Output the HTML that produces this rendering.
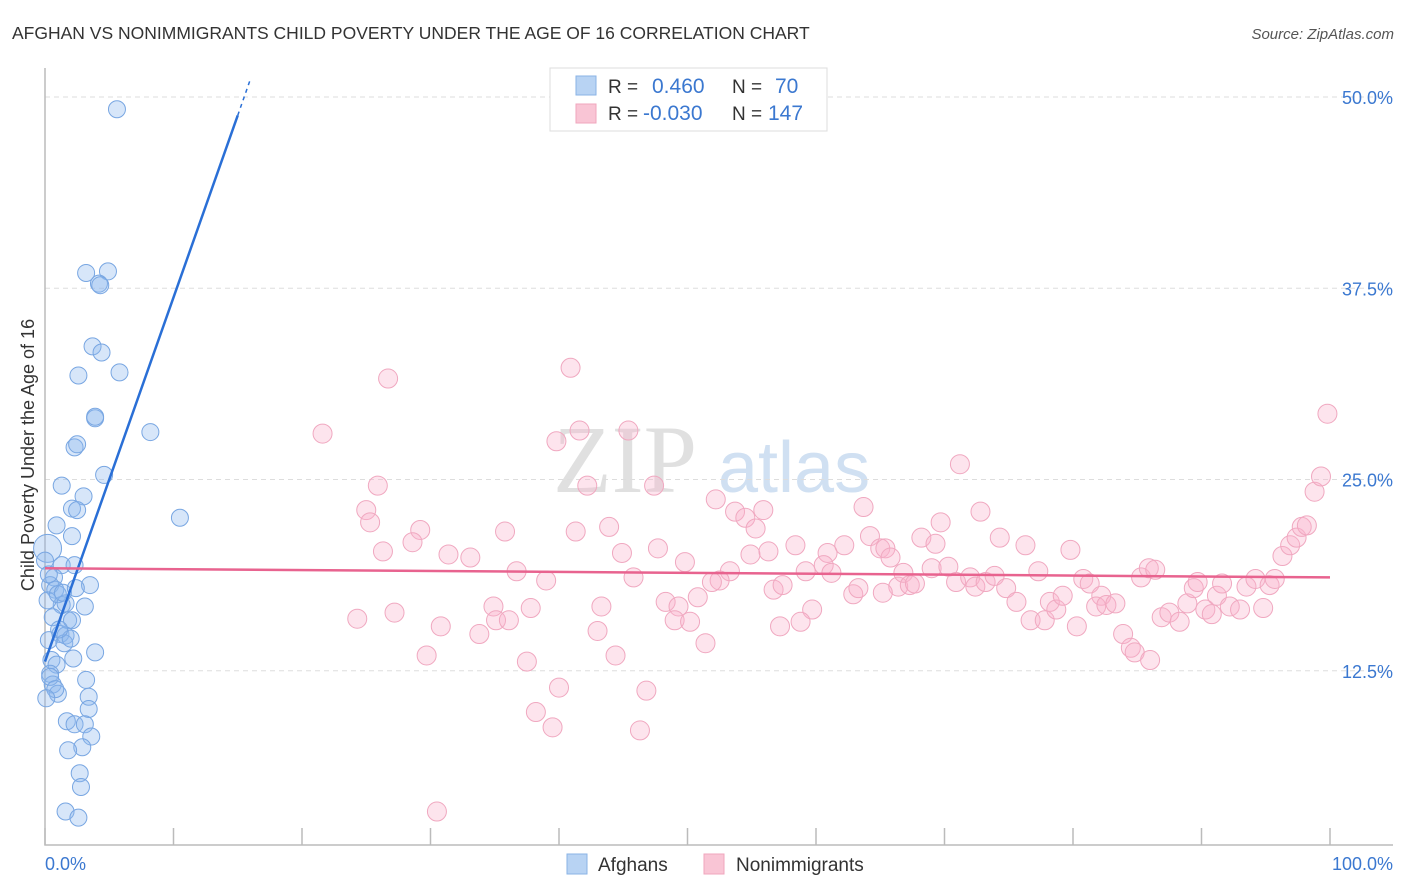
<!DOCTYPE html>
<html><head><meta charset="utf-8">
<style>
body{margin:0;background:#fff;font-family:"Liberation Sans",sans-serif;}
#wrap{position:relative;width:1406px;height:892px;overflow:hidden}
</style></head>
<body>
<div id="wrap">
<svg id="svg" width="1406" height="892" xmlns="http://www.w3.org/2000/svg">
<text x="12" y="39" font-size="17.5" fill="#333">AFGHAN VS NONIMMIGRANTS CHILD POVERTY UNDER THE AGE OF 16 CORRELATION CHART</text>
<text x="1394" y="39" font-size="15" fill="#555" font-style="italic" text-anchor="end">Source: ZipAtlas.com</text>
<text x="553" y="492" font-size="96" fill="#e0e0e0" font-family="Liberation Serif,serif">ZIP</text>
<text x="718" y="492" font-size="72" fill="#d0e0f2">atlas</text>
<text transform="translate(34,455) rotate(-90)" font-size="18" fill="#333" text-anchor="middle">Child Poverty Under the Age of 16</text>
<g id="grid"></g><g id="axes"></g><g id="pink"></g><g id="blue"></g><g id="lines"></g>
<g>
<rect x="550" y="68" width="277" height="63" fill="#fff" stroke="#ddd"/>
<rect x="576" y="76" width="20" height="19" fill="#b8d3f3" stroke="#8ab3e6"/>
<rect x="576" y="104" width="20" height="19" fill="#f9c5d5" stroke="#f0a6bd"/>
<text x="608" y="93" font-size="19" fill="#333">R =</text>
<text x="652" y="93" font-size="21" fill="#3b78d0">0.460</text>
<text x="732" y="93" font-size="19" fill="#333">N =</text>
<text x="775" y="93" font-size="21" fill="#3b78d0">70</text>
<text x="608" y="120" font-size="19" fill="#333">R =</text>
<text x="643" y="120" font-size="21" fill="#3b78d0">-0.030</text>
<text x="732" y="120" font-size="19" fill="#333">N =</text>
<text x="768" y="120" font-size="21" fill="#3b78d0">147</text>
</g>
<g>
<rect x="567" y="854" width="20" height="20" fill="#b8d3f3" stroke="#8ab3e6"/>
<text x="598" y="871" font-size="19" fill="#333">Afghans</text>
<rect x="704" y="854" width="20" height="20" fill="#f9c5d5" stroke="#f0a6bd"/>
<text x="736" y="871" font-size="19" fill="#333">Nonimmigrants</text>
</g>
<text x="45" y="870" font-size="18" fill="#3b78d0">0.0%</text>
<text x="1393" y="870" font-size="18" fill="#3b78d0" text-anchor="end">100.0%</text>
</svg>
</div>
<script>
const yTicks=[12.5,25,37.5,50];
const yTickLabels=["12.5%","25.0%","37.5%","50.0%"];
const xTicks=[0,10,20,30,40,50,60,70,80,90,100];
const blueX=[5.6,3.2,4.9,4.2,4.3,3.7,4.4,2.6,5.8,3.9,3.9,8.2,2.3,2.5,1.3,4.6,3.0,2.1,2.5,10.5,0.9,2.1,0.2,1.3,2.3,0.7,0.4,3.5,0.8,1.3,3.1,1.8,2.1,1.2,1.6,1.5,3.9,2.2,0.5,0.9,0.4,0.6,3.2,1.0,3.4,3.4,1.7,2.3,3.1,3.6,2.9,1.8,2.7,2.8,1.6,2.6,0.0,0.2,0.3,1.0,0.6,0.4,1.6,2.0,0.8,1.1,1.4,0.1,0.3,2.4];
const blueY=[49.2,38.5,38.6,37.8,37.7,33.7,33.3,31.8,32.0,29.0,29.1,28.1,27.1,27.3,24.6,25.3,23.9,23.1,23.0,22.5,22.0,21.3,20.5,19.4,19.4,18.6,18.1,18.1,17.8,16.8,16.7,15.8,15.8,14.9,14.8,14.3,13.7,13.3,13.2,12.9,12.3,11.6,11.9,11.0,10.8,10.0,9.2,9.0,9.0,8.2,7.5,7.3,5.8,4.9,3.3,2.9,19.7,17.1,14.5,17.5,16.0,12.1,16.9,14.6,11.3,15.2,17.6,10.7,18.8,17.9];
const pinkX=[21.6,26.7,40.9,45.4,39.8,41.6,25.9,25,25.3,26.3,29.2,28.6,31.4,33.1,35.8,36.7,39,41.3,42.2,43.9,44.9,45.8,47.4,47.7,49.8,52.2,53.7,54.5,55.9,55.3,54.9,56.3,58.4,53.3,52.5,51.9,50.8,48.3,49.3,49,50.2,51.4,59.2,60.9,62.2,60.6,61.2,59.7,58.8,57.2,56.7,62.9,63.3,64.2,63.7,65,65.4,65.8,66.4,66.8,67.3,67.7,68.2,69.3,69.7,69,70.3,70.9,72,72.4,73.2,73.9,72.8,71.2,74.3,74.8,75.6,76.3,77.3,76.7,77.8,78.2,78.7,79.2,79.8,80.3,80.8,81.3,82.2,81.8,82.6,83.3,83.9,84.5,84.8,85.3,85.9,86.4,86.9,87.5,88.3,88.9,89.4,89.7,90.3,90.8,91.2,91.6,92.2,93,93.5,94.2,94.8,95.3,95.7,96.3,96.9,97.4,97.8,98.2,98.8,99.3,99.8,24.3,27.2,30.8,29.7,34.9,35.1,36.1,33.8,37.8,37.5,40,38.2,39.5,43.3,43,44.4,46.8,46.3,30.5,57.4,65.2,86.0];
const pinkY=[28.0,31.6,32.3,28.2,27.5,28.2,24.6,23,22.2,20.3,21.7,20.9,20.1,19.9,21.6,19.0,18.4,21.6,24.6,21.9,20.2,18.6,24.6,20.5,19.6,23.7,22.9,22.5,23.0,21.8,20.1,20.3,20.7,19.0,18.4,18.3,17.3,17.0,16.7,15.8,15.7,14.3,19.0,20.2,20.7,19.4,18.9,16.5,15.7,15.4,17.8,17.5,17.9,21.3,23.2,20.5,20.5,19.9,18.0,18.9,18.1,18.2,21.2,20.8,22.2,19.2,19.3,18.3,18.6,18.0,18.3,18.7,22.9,26.0,21.2,17.9,17.0,20.7,19.0,15.8,15.8,17.0,16.5,17.4,20.4,15.4,18.5,18.2,17.4,16.7,16.8,16.9,14.9,14.0,13.7,18.6,19.2,19.1,16.0,16.3,15.7,16.9,17.9,18.3,16.5,16.2,17.4,18.2,16.7,16.5,18.0,18.5,16.6,18.1,18.5,20.0,20.7,21.2,21.9,22.0,24.2,25.2,29.3,15.9,16.3,15.4,13.5,16.7,15.8,15.8,14.9,16.6,13.1,11.4,9.8,8.8,16.7,15.1,13.5,11.2,8.6,3.3,18.1,17.6,13.2];
const blueTrend=[[0,13.1],[15,48.8],[16,51.2]];
const pinkTrend=[[0,19.2],[100,18.6]];
const NS="http://www.w3.org/2000/svg";
const X0=45,X1=1330,Y0=862,YS=15.3;
function sx(v){return X0+v*(X1-X0)/100;}
function sy(v){return Y0-v*YS;}
function mk(tag,attrs,parent){const e=document.createElementNS(NS,tag);for(const k in attrs)e.setAttribute(k,attrs[k]);parent.appendChild(e);return e;}
const grid=document.getElementById('grid'),axes=document.getElementById('axes');
yTicks.forEach((t,i)=>{
  const l=mk('line',{x1:45,x2:1393,y1:sy(t),y2:sy(t),stroke:'#ddd','stroke-dasharray':'5,4'},grid);
  
  
  const tx=mk('text',{x:1393,y:sy(t)+7,'font-size':18,fill:'#3b78d0','text-anchor':'end'},grid);
  tx.textContent=yTickLabels[i];
  
  
});
const ax=mk('path',{d:'M45,68V845H1393',fill:'none',stroke:'#bbb','stroke-width':1.5},axes);


xTicks.forEach(t=>{
  const l=mk('line',{x1:sx(t),x2:sx(t),y1:828,y2:845,stroke:'#bbb','stroke-width':1.5},axes);
  
  
});
const pg=document.getElementById('pink');
pinkX.forEach((x,i)=>{
  const c=mk('circle',{cx:sx(x),cy:sy(pinkY[i]),r:9.5,fill:'rgba(248,178,202,0.35)',stroke:'#f0a8c0','stroke-width':1},pg);
  
  
});
const bg=document.getElementById('blue');
blueX.forEach((x,i)=>{
  const c=mk('circle',{cx:sx(x),cy:sy(blueY[i]),r:i==22?14:8.5,fill:'rgba(140,182,238,0.35)',stroke:'#78a6e2','stroke-width':1},bg);
  
  
});
const lg=document.getElementById('lines');
const b1=mk('line',{x1:sx(blueTrend[0][0]),y1:sy(blueTrend[0][1]),x2:sx(blueTrend[1][0]),y2:sy(blueTrend[1][1]),stroke:'#2a6fd6','stroke-width':2.5},lg);


const b2=mk('line',{x1:sx(blueTrend[1][0]),y1:sy(blueTrend[1][1]),x2:sx(blueTrend[2][0]),y2:sy(blueTrend[2][1]),stroke:'#2a6fd6','stroke-width':1.5,'stroke-dasharray':'4,4'},lg);


const p1=mk('line',{x1:sx(pinkTrend[0][0]),y1:sy(pinkTrend[0][1]),x2:sx(pinkTrend[1][0]),y2:sy(pinkTrend[1][1]),stroke:'#e8638f','stroke-width':2.5},lg);


</script>
</body></html>
